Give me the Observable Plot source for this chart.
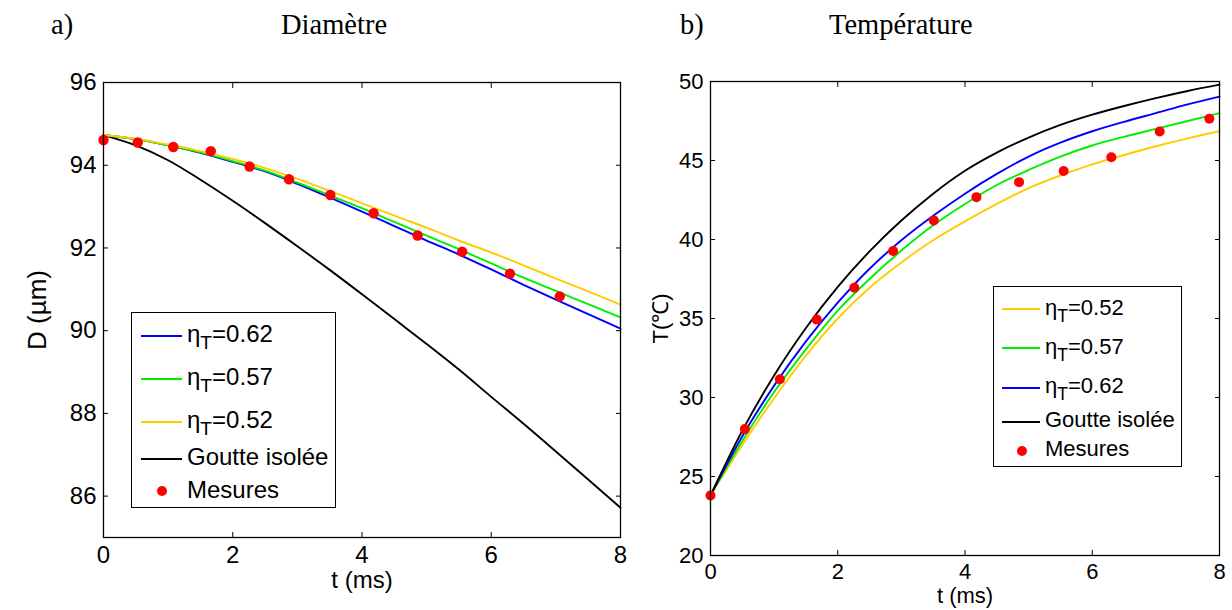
<!DOCTYPE html>
<html><head><meta charset="utf-8">
<script src="https://cdn.jsdelivr.net/npm/d3@7"></script>
<script src="https://cdn.jsdelivr.net/npm/@observablehq/plot@0.6"></script>
<style>
html,body{margin:0;padding:0;background:#fff;}
#page{position:relative;width:1232px;height:610px;overflow:hidden;background:#fff;font-family:"Liberation Sans",Arial,sans-serif;color:#000;}
.panel{position:absolute;top:0;}
.ttl{position:absolute;font-family:"Liberation Serif","Times New Roman",serif;font-size:28.5px;line-height:28.5px;white-space:nowrap;color:#000;}
.legend{position:absolute;border:1.5px solid #000;background:#fff;box-sizing:border-box;}
.sample{position:absolute;height:2px;}
.dot{position:absolute;border-radius:50%;background:#ff0000;}
.lt{position:absolute;white-space:nowrap;}
.sub{position:relative;font-size:0.8em;top:0.38em;}
</style>
</head><body>
<div id="page"></div>
<script>
// ---------- data ----------
const xTicks = [0, 2, 4, 6, 8];
const dTicks = [86, 88, 90, 92, 94, 96];
const tempTicks = [20, 25, 30, 35, 40, 45, 50];

const tGrid = [0, 0.5, 1, 1.5, 2, 2.5, 3, 3.5, 4, 4.5, 5, 5.5, 6, 6.5, 7, 7.5, 8];

// a) Diamètre (µm)
const dEta062 = [94.73, 94.63, 94.48, 94.30, 94.08, 93.85, 93.55, 93.22, 92.88, 92.53, 92.18, 91.84, 91.48, 91.11, 90.75, 90.40, 90.05];
const dEta057 = [94.73, 94.63, 94.48, 94.31, 94.10, 93.87, 93.58, 93.27, 92.96, 92.63, 92.30, 91.97, 91.63, 91.28, 90.96, 90.64, 90.32];
const dEta052 = [94.73, 94.64, 94.50, 94.34, 94.15, 93.93, 93.67, 93.38, 93.08, 92.78, 92.49, 92.18, 91.89, 91.58, 91.26, 90.95, 90.63];
const dIsolee = [94.73, 94.48, 94.12, 93.65, 93.14, 92.60, 92.04, 91.47, 90.88, 90.28, 89.68, 89.06, 88.40, 87.75, 87.08, 86.40, 85.72];
const dMesT = [0, 0.53, 1.08, 1.66, 2.26, 2.87, 3.51, 4.18, 4.86, 5.55, 6.29, 7.06];
const dMes = [94.61, 94.55, 94.44, 94.34, 93.97, 93.66, 93.28, 92.84, 92.30, 91.91, 91.38, 90.83];

// b) Température (°C)
const tEta052 = [23.8, 27.0, 29.95, 32.65, 35.0, 36.95, 38.55, 39.95, 41.15, 42.25, 43.25, 44.05, 44.75, 45.35, 45.9, 46.4, 46.85];
const tEta057 = [23.8, 27.25, 30.35, 33.05, 35.5, 37.5, 39.3, 40.9, 42.25, 43.45, 44.4, 45.25, 45.95, 46.5, 47.0, 47.5, 48.0];
const tEta062 = [23.8, 27.55, 30.75, 33.55, 36.0, 38.15, 39.95, 41.5, 42.9, 44.15, 45.25, 46.13, 46.85, 47.45, 48.0, 48.55, 49.05];
const tIsolee = [23.8, 27.9, 31.4, 34.4, 37.0, 39.25, 41.2, 42.9, 44.35, 45.5, 46.45, 47.25, 47.9, 48.45, 48.95, 49.4, 49.8];
const tMesT = [0, 0.54, 1.09, 1.67, 2.26, 2.87, 3.51, 4.18, 4.85, 5.55, 6.30, 7.06, 7.84];
const tMes = [23.8, 28.0, 31.15, 34.93, 36.95, 39.27, 41.21, 42.68, 43.63, 44.33, 45.21, 46.84, 47.64];

const colBlue = "#0000ff", colGreen = "#00ee00", colYellow = "#ffcc00", colBlack = "#000000", colRed = "#ff0000";

// ---------- helpers ----------
const tbl = (xs, ys) => xs.map((x, i) => ({x, y: ys[i]}));

function boxAxes(yTicks, fs, xLabel, yLabel, xLabOff, yLabOff, yLabFs) {
  const blank = () => "";
  return [
    Plot.axisX({ticks: xTicks, tickSize: 0, tickPadding: 8, fontSize: fs, label: xLabel, labelAnchor: "center", labelOffset: xLabOff, labelArrow: "none"}),
    Plot.axisY({ticks: yTicks, tickSize: 0, tickPadding: 7, fontSize: fs, label: null}),
    Plot.axisY({ticks: [], tickSize: 0, label: yLabel, labelAnchor: "center", labelOffset: yLabOff, labelArrow: "none", fontSize: yLabFs}),
    Plot.axisX({anchor: "bottom", ticks: xTicks, tickSize: -5, tickFormat: blank, label: null}),
    Plot.axisX({anchor: "top", ticks: xTicks, tickSize: -5, tickFormat: blank, label: null}),
    Plot.axisY({anchor: "left", ticks: yTicks, tickSize: -5, tickFormat: blank, label: null}),
    Plot.axisY({anchor: "right", ticks: yTicks, tickSize: -5, tickFormat: blank, label: null}),
    Plot.frame({stroke: "#000", strokeWidth: 1.3})
  ];
}

const lineOpts = (c) => ({x: "x", y: "y", stroke: c, strokeWidth: 1.9, curve: "monotone-x"});
const page = document.getElementById("page");

// ---------- panel a ----------
const plotA = Plot.plot({
  width: 640, height: 610,
  marginLeft: 103, marginRight: 20, marginTop: 82, marginBottom: 73,
  x: {domain: [0, 8]},
  y: {domain: [85, 96]},
  style: {fontFamily: "'Liberation Sans', Arial, sans-serif", fontSize: "24px", color: "#000", background: "transparent", overflow: "visible"},
  marks: [
    Plot.line(tbl(tGrid, dIsolee), lineOpts(colBlack)),
    Plot.line(tbl(tGrid, dEta062), lineOpts(colBlue)),
    Plot.line(tbl(tGrid, dEta057), lineOpts(colGreen)),
    Plot.line(tbl(tGrid, dEta052), lineOpts(colYellow)),
    Plot.dot(tbl(dMesT, dMes), {x: "x", y: "y", r: 5.2, fill: colRed, stroke: null}),
    ...boxAxes(dTicks, 24, "t (ms)", "D (µm)", 50, 76, 26)
  ]
});
plotA.classList.add("panel");
plotA.style.left = "0px";
page.appendChild(plotA);

// ---------- panel b ----------
const plotB = Plot.plot({
  width: 592, height: 610,
  marginLeft: 70, marginRight: 13, marginTop: 81, marginBottom: 55,
  x: {domain: [0, 8]},
  y: {domain: [20, 50]},
  style: {fontFamily: "'Liberation Sans', Arial, sans-serif", fontSize: "22px", color: "#000", background: "transparent", overflow: "visible"},
  marks: [
    Plot.line(tbl(tGrid, tEta052), lineOpts(colYellow)),
    Plot.line(tbl(tGrid, tEta057), lineOpts(colGreen)),
    Plot.line(tbl(tGrid, tEta062), lineOpts(colBlue)),
    Plot.line(tbl(tGrid, tIsolee), lineOpts(colBlack)),
    Plot.dot(tbl(tMesT, tMes), {x: "x", y: "y", r: 5, fill: colRed, stroke: null}),
    ...boxAxes(tempTicks, 22, "t (ms)", "T(℃)", 47, 58, 22)
  ]
});
plotB.classList.add("panel");
plotB.style.left = "640px";
page.appendChild(plotB);

// ---------- titles ----------
function title(txt, left, baseline) {
  const d = document.createElement("div");
  d.className = "ttl";
  d.textContent = txt;
  d.style.left = left + "px";
  d.style.top = (baseline - 23.5) + "px";
  page.appendChild(d);
}
title("a)", 51, 34);
title("Diamètre", 281, 34);
title("b)", 680, 34);
title("Température", 829, 34);

// ---------- legends ----------
const legA = [
  {kind: "line", color: colBlue, eta: "0.62"},
  {kind: "line", color: colGreen, eta: "0.57"},
  {kind: "line", color: colYellow, eta: "0.52"},
  {kind: "line", color: colBlack, text: "Goutte isolée"},
  {kind: "dot", color: colRed, text: "Mesures"}
];
const legB = [
  {kind: "line", color: colYellow, eta: "0.52"},
  {kind: "line", color: colGreen, eta: "0.57"},
  {kind: "line", color: colBlue, eta: "0.62"},
  {kind: "line", color: colBlack, text: "Goutte isolée"},
  {kind: "dot", color: colRed, text: "Mesures"}
];
function legend(items, box, rowsY, fs, sx0, sx1, tx, dotX) {
  const L = document.createElement("div");
  L.className = "legend";
  L.style.left = box[0] + "px"; L.style.top = box[1] + "px";
  L.style.width = box[2] + "px"; L.style.height = box[3] + "px";
  items.forEach((it, i) => {
    const yc = rowsY[i] - box[1];
    if (it.kind === "line") {
      const s = document.createElement("div");
      s.className = "sample";
      s.style.left = sx0 + "px"; s.style.width = (sx1 - sx0) + "px";
      s.style.top = (yc - 1) + "px"; s.style.background = it.color;
      L.appendChild(s);
    } else {
      const s = document.createElement("div");
      s.className = "dot";
      s.style.left = (dotX - 5) + "px"; s.style.top = (yc - 5) + "px";
      s.style.width = "10px"; s.style.height = "10px";
      L.appendChild(s);
    }
    const t = document.createElement("div");
    t.className = "lt";
    t.style.fontSize = fs + "px"; t.style.lineHeight = fs + "px";
    t.style.left = tx + "px"; t.style.top = (yc - fs * 0.57) + "px";
    if (it.eta) {
      t.innerHTML = "η<span class='sub'>T</span>=" + it.eta;
    } else {
      t.textContent = it.text;
    }
    L.appendChild(t);
  });
  page.appendChild(L);
}
legend(legA, [131, 312, 205, 196], [334.8, 377.8, 420.7, 457.5, 490.3], 24, 8.5, 50, 55, 30);
legend(legB, [993, 286, 189, 181], [308.4, 347.4, 386.7, 420.7, 449.5], 22, 8, 46, 51, 28);
</script>
</body></html>
